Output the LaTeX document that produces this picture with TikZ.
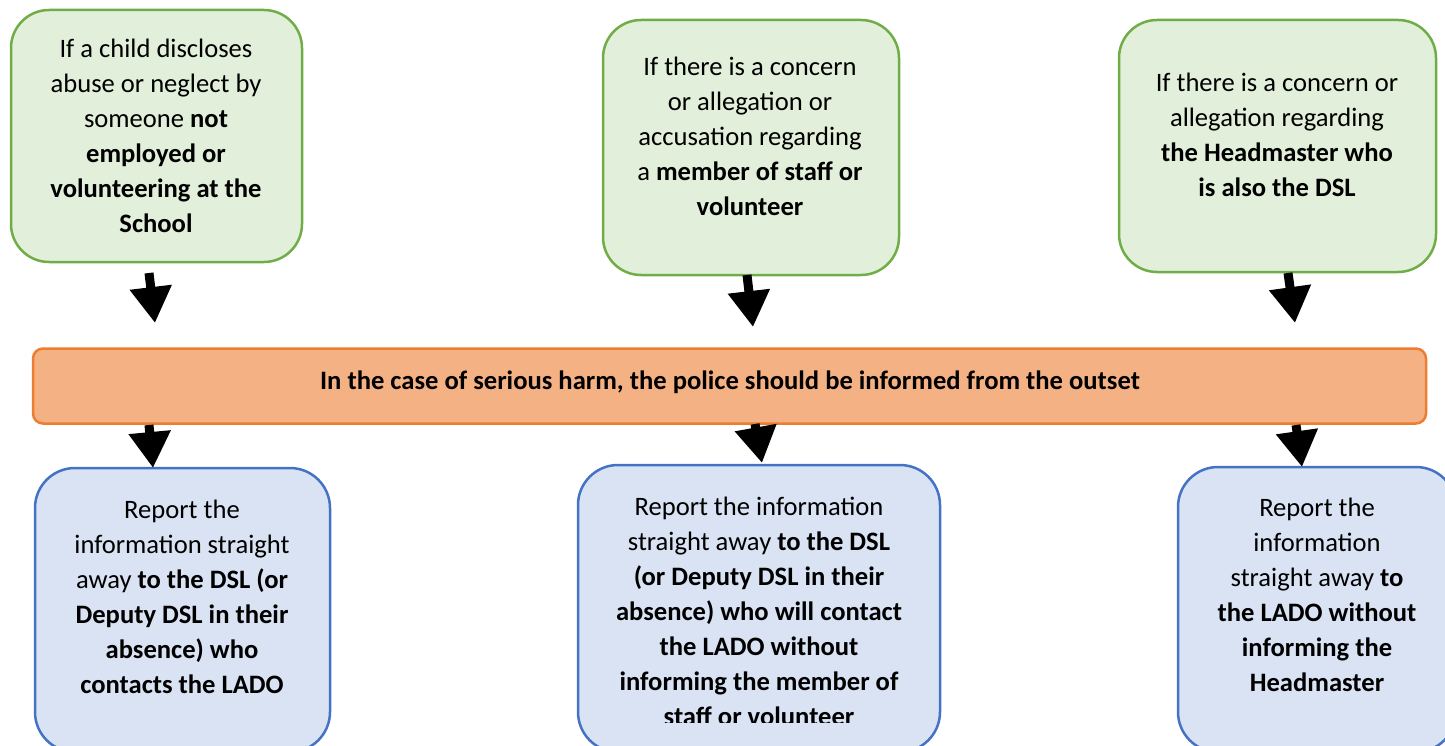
\documentclass[tikz,border=0pt]{standalone}
\usepackage{fontspec}
\setmainfont{Carlito}
\usetikzlibrary{arrows.meta}
\definecolor{gfill}{HTML}{E2EFDA}
\definecolor{gline}{HTML}{70AD47}
\definecolor{ofill}{HTML}{F4B183}
\definecolor{oline}{HTML}{ED7D31}
\definecolor{bfill}{HTML}{DAE3F3}
\definecolor{bline}{HTML}{4472C4}
\tikzset{
  gbox/.style={draw=gline, fill=gfill, line width=2.5pt, rounded corners=38pt, inner sep=0pt},
  bbox/.style={draw=bline, fill=bfill, line width=2.5pt, rounded corners=40pt, inner sep=0pt},
  obox/.style={draw=oline, fill=ofill, line width=2.5pt, rounded corners=10pt, inner sep=0pt},
  txt/.style={align=center, inner sep=0pt, font=\fontsize{26.6}{35}\selectfont},
  blockarrow/.style={draw=black, line width=9pt, -{Triangle[width=40pt, length=36pt]}},
}
\begin{document}
\begin{tikzpicture}[x=1pt, y=-1pt]
\useasboundingbox (0,0) rectangle (1445,746);
\clip (0,0) rectangle (1445,746);

% top green boxes
\node[gbox, minimum width=291pt, minimum height=252pt] (g1) at (156.5,136) {};
\node[gbox, minimum width=296pt, minimum height=255pt] (g2) at (751,147.5) {};
\node[gbox, minimum width=317pt, minimum height=252pt] (g3) at (1277.5,146) {};

\node[txt] (t1) at (156,136) {If a child discloses\\abuse or neglect by\\someone \textbf{not}\\\textbf{employed or}\\\textbf{volunteering at the}\\\textbf{School}};
\node[txt] (t2) at (750,136) {If there is a concern\\or allegation or\\accusation regarding\\a \textbf{member of staff or}\\\textbf{volunteer}};
\node[txt] (t3) at (1277,134.5) {If there is a concern or\\allegation regarding\\\textbf{the Headmaster who}\\\textbf{is also the DSL}};

% orange bar
\node[obox, minimum width=1393pt, minimum height=75pt] (bar) at (729.5,386) {};
\node[txt] (tb) at (730,382.5) {\textbf{In the case of serious harm, the police should be informed from the outset}};

% bottom blue boxes
\node[bbox, minimum width=295pt, minimum height=284pt] (b1) at (182.5,610) {};
\node[bbox, minimum width=362pt, minimum height=287pt] (b2) at (759,608.5) {};
\node[bbox, minimum width=278pt, minimum height=285pt] (b3) at (1317,609.5) {};

\node[txt] (u1) at (182,597) {Report the\\information straight\\away \textbf{to the DSL (or}\\\textbf{Deputy DSL in their}\\\textbf{absence) who}\\\textbf{contacts the LADO}};
\begin{scope}
\clip (560,450) rectangle (960,722);
\node[txt] (u2) at (759,611) {Report the information\\straight away \textbf{to the DSL}\\\textbf{(or Deputy DSL in their}\\\textbf{absence) who will contact}\\\textbf{the LADO without}\\\textbf{informing the member of}\\\textbf{staff or volunteer}};
\end{scope}
\node[txt] (u3) at (1317,595) {Report the\\information\\straight away \textbf{to}\\\textbf{the LADO without}\\\textbf{informing the}\\\textbf{Headmaster}};

% arrow end points
\coordinate (a1s) at (149,273); \coordinate (a1e) at (155,323);
\coordinate (a2s) at (149,425); \coordinate (a2e) at (153,468);
\coordinate (a3s) at (747,275); \coordinate (a3e) at (753,327);
\coordinate (a4s) at (755,424); \coordinate (a4e) at (762,463);
\coordinate (a5s) at (1288,273); \coordinate (a5e) at (1295,323);
\coordinate (a6s) at (1296,425); \coordinate (a6e) at (1302,467);

\draw[blockarrow] (a1s) -- (a1e);
\draw[blockarrow] (a2s) -- (a2e);
\draw[blockarrow] (a3s) -- (a3e);
\draw[blockarrow] (a4s) -- (a4e);
\draw[blockarrow] (a5s) -- (a5e);
\draw[blockarrow] (a6s) -- (a6e);
\end{tikzpicture}
\end{document}
